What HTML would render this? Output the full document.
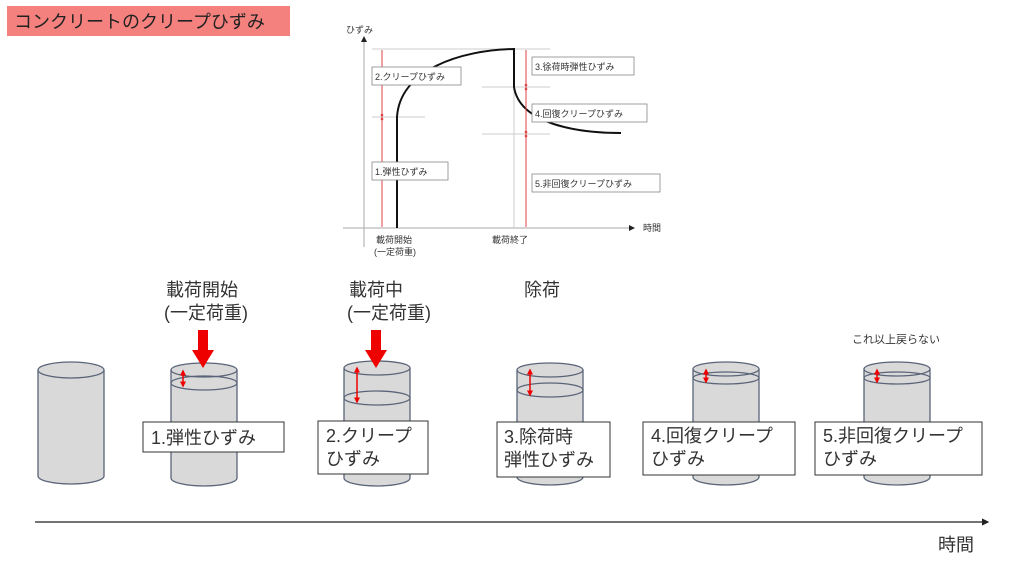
<!DOCTYPE html>
<html><head><meta charset="utf-8"><style>
body{margin:0;width:1024px;height:576px;background:#fff;overflow:hidden;font-family:"Liberation Sans","Noto Sans CJK JP",sans-serif}
svg text{font-family:"Liberation Sans","Noto Sans CJK JP",sans-serif}
</style></head><body>
<svg width="1024" height="576" viewBox="0 0 1024 576" xmlns="http://www.w3.org/2000/svg">
<defs>
<marker id="ah" markerWidth="6" markerHeight="6" refX="5" refY="3" orient="auto"><path d="M0,0L6,3L0,6z" fill="#222"/></marker>
<marker id="ra" markerWidth="4" markerHeight="4" refX="3" refY="2" orient="auto-start-reverse"><path d="M0,0L4,2L0,4z" fill="#e00"/></marker>
</defs>
<rect x="7" y="6" width="283" height="30" fill="#f4817d"/>
<text x="14" y="28" font-size="18" fill="#222">コンクリートのクリープひずみ</text>

<!-- graph -->
<g font-size="9" fill="#333">
<line x1="364" y1="247" x2="364" y2="37" stroke="#aaa" marker-end="url(#ah)"/>
<line x1="343" y1="228" x2="634" y2="228" stroke="#aaa" marker-end="url(#ah)"/>
<text x="346" y="33">ひずみ</text>
<text x="643" y="231">時間</text>
<line x1="372" y1="49" x2="550" y2="49" stroke="#ccc"/>
<line x1="372" y1="117" x2="425" y2="117" stroke="#ccc"/>
<line x1="482" y1="87" x2="550" y2="87" stroke="#ccc"/>
<line x1="482" y1="134" x2="550" y2="134" stroke="#ccc"/>
<line x1="514" y1="49" x2="514" y2="228" stroke="#ccc"/>
<path d="M397,228 L397,117 C400,70 460,50 514,49 L514,87 C520,125 580,133 621,133" fill="none" stroke="#111" stroke-width="2"/>
<line x1="382" y1="50" x2="382" y2="227" stroke="#e04040"/>
<line x1="526" y1="50" x2="526" y2="227" stroke="#e04040"/>
<g fill="#e04040"><circle cx="382" cy="115" r="1.3"/><circle cx="382" cy="119" r="1.3"/><circle cx="526" cy="85" r="1.3"/><circle cx="526" cy="89" r="1.3"/><circle cx="526" cy="132" r="1.3"/><circle cx="526" cy="136" r="1.3"/></g>
<g fill="#fff" stroke="#888" stroke-width="0.8">
<rect x="372" y="67" width="89" height="18"/><rect x="372" y="162" width="76" height="18"/>
<rect x="532" y="57" width="102" height="18"/><rect x="532" y="104" width="115" height="18"/><rect x="532" y="174" width="128" height="18"/>
</g>
<text x="375" y="80">2.クリープひずみ</text>
<text x="375" y="175">1.弾性ひずみ</text>
<text x="535" y="70">3.徐荷時弾性ひずみ</text>
<text x="535" y="117">4.回復クリープひずみ</text>
<text x="535" y="187">5.非回復クリープひずみ</text>
<text x="376" y="243">載荷開始</text>
<text x="374" y="255">(一定荷重)</text>
<text x="492" y="243">載荷終了</text>
</g>

<g font-size="18" fill="#333">
<text x="166" y="296">載荷開始</text><text x="164" y="319">(一定荷重)</text>
<text x="349" y="296">載荷中</text><text x="347" y="319">(一定荷重)</text>
<text x="524" y="296">除荷</text>
</g>
<text x="852" y="343" font-size="11" fill="#333">これ以上戻らない</text>

<!-- cylinders -->
<g fill="#d9d9d9" stroke="#5a6478" stroke-width="1.3">
<path d="M38,370 V476 A33,8 0 0 0 104,476 V370"/><ellipse cx="71" cy="370" rx="33" ry="8"/>
<path d="M171,370 V478 A33,8 0 0 0 237,478 V370"/><ellipse cx="204" cy="370" rx="33" ry="7"/><path d="M171,383 A33,7 0 0 0 237,383 A33,7 0 0 0 171,383" fill="none"/>
<path d="M344,368 V478 A33,8 0 0 0 410,478 V368"/><ellipse cx="377" cy="368" rx="33" ry="7"/><path d="M344,398 A33,7 0 0 0 410,398 A33,7 0 0 0 344,398" fill="none"/>
<path d="M517,370 V477 A33,8 0 0 0 583,477 V370"/><ellipse cx="550" cy="370" rx="33" ry="7"/><path d="M517,390 A33,7 0 0 0 583,390 A33,7 0 0 0 517,390" fill="none"/>
<path d="M693,369 V477 A33,8 0 0 0 759,477 V369"/><ellipse cx="726" cy="369" rx="33" ry="7"/><path d="M693,378 A33,6 0 0 0 759,378 A33,6 0 0 0 693,378" fill="none"/>
<path d="M864,369 V477 A33,8 0 0 0 930,477 V369"/><ellipse cx="897" cy="369" rx="33" ry="7"/><path d="M864,378 A33,6 0 0 0 930,378 A33,6 0 0 0 864,378" fill="none"/>
</g>
<g stroke="#e00" stroke-width="1.5">
<line x1="183" y1="371" x2="183" y2="386" marker-start="url(#ra)" marker-end="url(#ra)"/>
<line x1="357" y1="368" x2="357" y2="402" marker-start="url(#ra)" marker-end="url(#ra)"/>
<line x1="530" y1="370" x2="530" y2="395" marker-start="url(#ra)" marker-end="url(#ra)"/>
<line x1="706" y1="370" x2="706" y2="382" marker-start="url(#ra)" marker-end="url(#ra)"/>
<line x1="877" y1="370" x2="877" y2="382" marker-start="url(#ra)" marker-end="url(#ra)"/>
</g>
<g fill="#ee0000">
<path d="M198,330 H208 V350 H214 L203,368 L192,350 H198Z"/>
<path d="M371,330 H381 V350 H387 L376,368 L365,350 H371Z"/>
</g>

<g fill="#fff" stroke="#333" stroke-width="1">
<rect x="143" y="422" width="141" height="30"/>
<rect x="318" y="421" width="110" height="53"/>
<rect x="497" y="422" width="113" height="55"/>
<rect x="643" y="422" width="152" height="53"/>
<rect x="815" y="422" width="167" height="53"/>
</g>
<g font-size="18" fill="#333">
<text x="151" y="444">1.弾性ひずみ</text>
<text x="326" y="442">2.クリープ</text><text x="326" y="465">ひずみ</text>
<text x="504" y="443">3.除荷時</text><text x="504" y="466">弾性ひずみ</text>
<text x="651" y="442">4.回復クリープ</text><text x="651" y="465">ひずみ</text>
<text x="823" y="442">5.非回復クリープ</text><text x="823" y="465">ひずみ</text>
</g>

<line x1="35" y1="522" x2="988" y2="522" stroke="#222" stroke-width="1.2" marker-end="url(#ah)"/>
<text x="938" y="551" font-size="18" fill="#333">時間</text>
</svg>
</body></html>
